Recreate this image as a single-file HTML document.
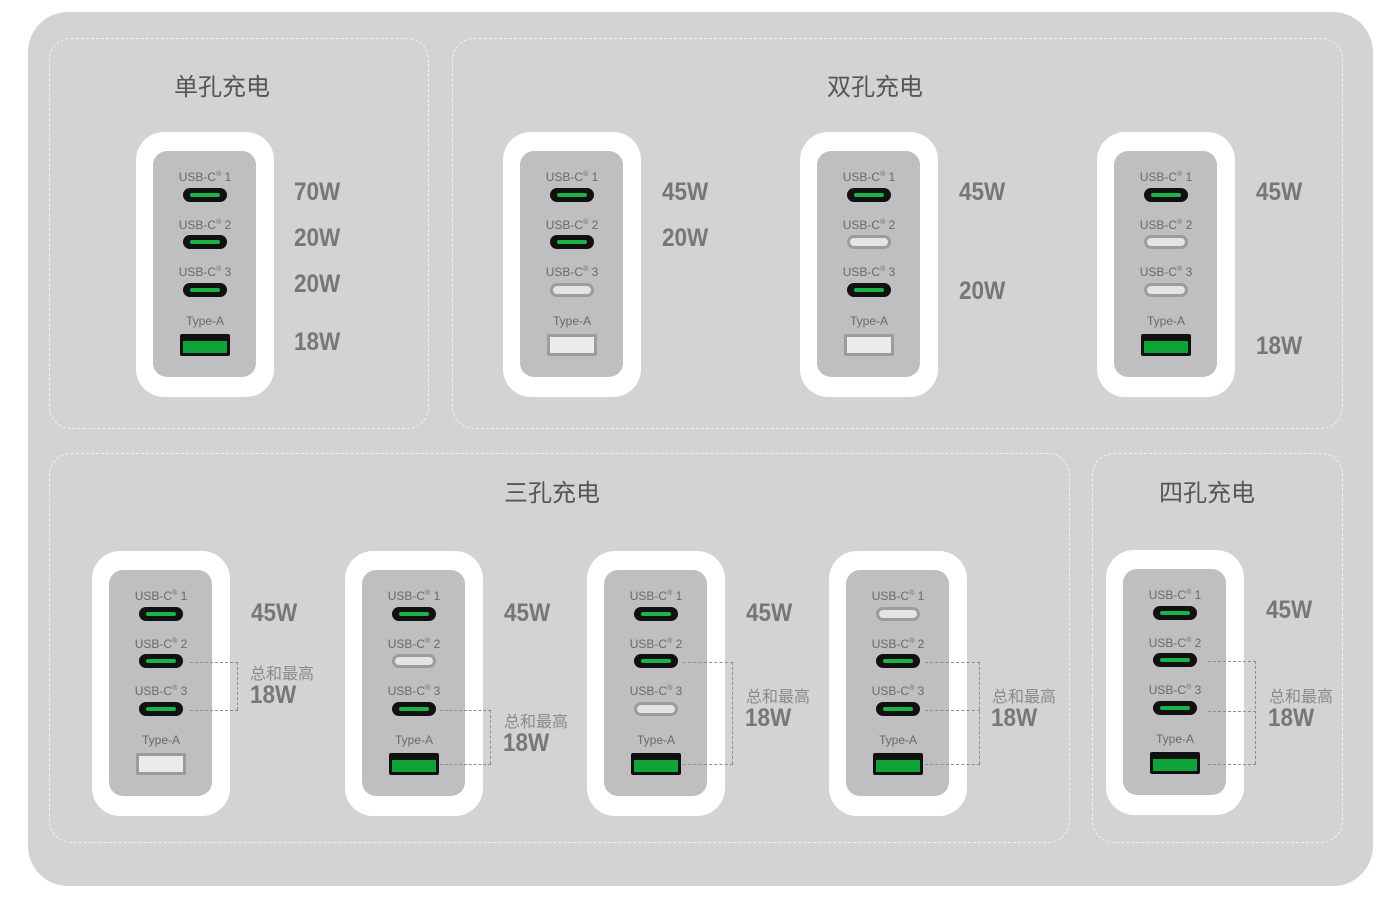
<!DOCTYPE html><html><head><meta charset="utf-8"><style>
body{margin:0;width:1400px;height:897px;background:#fff;position:relative;overflow:hidden;font-family:"Liberation Sans","Noto Sans CJK SC",sans-serif}
.bg{position:absolute;left:28px;top:12px;width:1345px;height:874px;background:#d3d3d5;border-radius:40px}
.pn{position:absolute;border:1.5px dashed #f2f2f2;border-radius:22px;box-sizing:border-box}
.t{position:absolute;font-size:24px;color:#555;transform:translateX(-50%);line-height:28px;font-family:"Noto Sans CJK SC",sans-serif}
.ch{position:absolute;width:138px;height:265px;background:#fff;border-radius:28px}
.in{position:absolute;left:17px;top:19px;width:103px;height:226px;background:#bfbfc1;border-radius:14px}
.l{position:absolute;left:0;width:138px;text-align:center;font-size:12px;line-height:14px;color:#6a6a6a;margin-top:-1px}
.l sup{font-size:7px;vertical-align:5px}
.c{position:absolute;left:47px;width:44px;height:14px;border-radius:7px;box-sizing:border-box}
.c.on{background:#111}.c.on:after{content:"";position:absolute;left:7px;right:7px;top:5px;height:4px;background:#1ab44a;border-radius:2px}
.c.off{background:#e4e4e4;border:3px solid #9c9c9c}
.a{position:absolute;left:44px;top:202px;width:50px;height:22px;box-sizing:border-box;border-radius:2px}
.a.on{background:#111}.a.on:after{content:"";position:absolute;left:3px;right:3px;top:7px;bottom:3px;background:#0fa43a}
.a.off{background:#ebebeb;border:3px solid #9c9c9c}
.w{position:absolute;font-family:"Liberation Sans",sans-serif;font-weight:bold;font-size:25px;color:#777;line-height:28px;transform:scaleX(0.9);transform-origin:0 0}
.s{position:absolute;font-size:16px;color:#8a8a8a;line-height:20px;font-family:"Noto Sans CJK SC",sans-serif}
.h{position:absolute;border-top:1.5px dashed #8f8f8f;height:0}
.v{position:absolute;border-left:1.5px dashed #8f8f8f;width:0}
</style></head><body>
<div class="bg"></div>
<div class="pn" style="left:49px;top:38px;width:380px;height:391px"></div>
<div class="pn" style="left:452px;top:38px;width:891px;height:391px"></div>
<div class="pn" style="left:49px;top:453px;width:1021px;height:390px"></div>
<div class="pn" style="left:1092px;top:453px;width:251px;height:390px"></div>
<div class="t" style="left:222px;top:71px">单孔充电</div>
<div class="t" style="left:875px;top:71px">双孔充电</div>
<div class="t" style="left:552px;top:477px">三孔充电</div>
<div class="t" style="left:1207px;top:477px">四孔充电</div>

<div class="ch" style="left:136px;top:132px"><div class="in"></div><div class="l" style="top:37px">USB-C<sup>®</sup> 1</div><div class="c on" style="top:56px"></div><div class="l" style="top:85px">USB-C<sup>®</sup> 2</div><div class="c on" style="top:103px"></div><div class="l" style="top:132px">USB-C<sup>®</sup> 3</div><div class="c on" style="top:151px"></div><div class="l" style="top:183px">Type-A</div><div class="a on"></div></div>
<div class="ch" style="left:503px;top:132px"><div class="in"></div><div class="l" style="top:37px">USB-C<sup>®</sup> 1</div><div class="c on" style="top:56px"></div><div class="l" style="top:85px">USB-C<sup>®</sup> 2</div><div class="c on" style="top:103px"></div><div class="l" style="top:132px">USB-C<sup>®</sup> 3</div><div class="c off" style="top:151px"></div><div class="l" style="top:183px">Type-A</div><div class="a off"></div></div>
<div class="ch" style="left:800px;top:132px"><div class="in"></div><div class="l" style="top:37px">USB-C<sup>®</sup> 1</div><div class="c on" style="top:56px"></div><div class="l" style="top:85px">USB-C<sup>®</sup> 2</div><div class="c off" style="top:103px"></div><div class="l" style="top:132px">USB-C<sup>®</sup> 3</div><div class="c on" style="top:151px"></div><div class="l" style="top:183px">Type-A</div><div class="a off"></div></div>
<div class="ch" style="left:1097px;top:132px"><div class="in"></div><div class="l" style="top:37px">USB-C<sup>®</sup> 1</div><div class="c on" style="top:56px"></div><div class="l" style="top:85px">USB-C<sup>®</sup> 2</div><div class="c off" style="top:103px"></div><div class="l" style="top:132px">USB-C<sup>®</sup> 3</div><div class="c off" style="top:151px"></div><div class="l" style="top:183px">Type-A</div><div class="a on"></div></div>

<div class="ch" style="left:92px;top:551px"><div class="in"></div><div class="l" style="top:37px">USB-C<sup>®</sup> 1</div><div class="c on" style="top:56px"></div><div class="l" style="top:85px">USB-C<sup>®</sup> 2</div><div class="c on" style="top:103px"></div><div class="l" style="top:132px">USB-C<sup>®</sup> 3</div><div class="c on" style="top:151px"></div><div class="l" style="top:183px">Type-A</div><div class="a off"></div></div>
<div class="ch" style="left:345px;top:551px"><div class="in"></div><div class="l" style="top:37px">USB-C<sup>®</sup> 1</div><div class="c on" style="top:56px"></div><div class="l" style="top:85px">USB-C<sup>®</sup> 2</div><div class="c off" style="top:103px"></div><div class="l" style="top:132px">USB-C<sup>®</sup> 3</div><div class="c on" style="top:151px"></div><div class="l" style="top:183px">Type-A</div><div class="a on"></div></div>
<div class="ch" style="left:587px;top:551px"><div class="in"></div><div class="l" style="top:37px">USB-C<sup>®</sup> 1</div><div class="c on" style="top:56px"></div><div class="l" style="top:85px">USB-C<sup>®</sup> 2</div><div class="c on" style="top:103px"></div><div class="l" style="top:132px">USB-C<sup>®</sup> 3</div><div class="c off" style="top:151px"></div><div class="l" style="top:183px">Type-A</div><div class="a on"></div></div>
<div class="ch" style="left:829px;top:551px"><div class="in"></div><div class="l" style="top:37px">USB-C<sup>®</sup> 1</div><div class="c off" style="top:56px"></div><div class="l" style="top:85px">USB-C<sup>®</sup> 2</div><div class="c on" style="top:103px"></div><div class="l" style="top:132px">USB-C<sup>®</sup> 3</div><div class="c on" style="top:151px"></div><div class="l" style="top:183px">Type-A</div><div class="a on"></div></div>
<div class="ch" style="left:1106px;top:550px"><div class="in"></div><div class="l" style="top:37px">USB-C<sup>®</sup> 1</div><div class="c on" style="top:56px"></div><div class="l" style="top:85px">USB-C<sup>®</sup> 2</div><div class="c on" style="top:103px"></div><div class="l" style="top:132px">USB-C<sup>®</sup> 3</div><div class="c on" style="top:151px"></div><div class="l" style="top:183px">Type-A</div><div class="a on"></div></div>

<div class="w" style="left:294px;top:178px">70W</div><div class="w" style="left:294px;top:224px">20W</div><div class="w" style="left:294px;top:270px">20W</div><div class="w" style="left:294px;top:328px">18W</div>
<div class="w" style="left:662px;top:178px">45W</div><div class="w" style="left:662px;top:224px">20W</div>
<div class="w" style="left:959px;top:178px">45W</div><div class="w" style="left:959px;top:277px">20W</div>
<div class="w" style="left:1256px;top:178px">45W</div><div class="w" style="left:1256px;top:332px">18W</div>

<div class="w" style="left:251px;top:599px">45W</div><div class="s" style="left:250px;top:662px">总和最高</div><div class="w" style="left:250px;top:681px">18W</div>
<div class="h" style="left:190px;top:662px;width:48px"></div><div class="h" style="left:190px;top:710px;width:48px"></div><div class="v" style="left:237px;top:662px;height:48px"></div>

<div class="w" style="left:504px;top:599px">45W</div><div class="s" style="left:504px;top:710px">总和最高</div><div class="w" style="left:503px;top:729px">18W</div>
<div class="h" style="left:440px;top:710px;width:51px"></div><div class="h" style="left:440px;top:764px;width:51px"></div><div class="v" style="left:490px;top:710px;height:54px"></div>

<div class="w" style="left:746px;top:599px">45W</div><div class="s" style="left:746px;top:685px">总和最高</div><div class="w" style="left:745px;top:704px">18W</div>
<div class="h" style="left:683px;top:662px;width:50px"></div><div class="h" style="left:683px;top:764px;width:50px"></div><div class="v" style="left:732px;top:662px;height:102px"></div>

<div class="s" style="left:992px;top:685px">总和最高</div><div class="w" style="left:991px;top:704px">18W</div>
<div class="h" style="left:925px;top:662px;width:55px"></div><div class="h" style="left:925px;top:710px;width:55px"></div><div class="h" style="left:925px;top:764px;width:55px"></div><div class="v" style="left:979px;top:662px;height:102px"></div>

<div class="w" style="left:1266px;top:596px">45W</div><div class="s" style="left:1269px;top:685px">总和最高</div><div class="w" style="left:1268px;top:704px">18W</div>
<div class="h" style="left:1208px;top:661px;width:48px"></div><div class="h" style="left:1208px;top:711px;width:48px"></div><div class="h" style="left:1208px;top:764px;width:48px"></div><div class="v" style="left:1255px;top:661px;height:103px"></div>
</body></html>
